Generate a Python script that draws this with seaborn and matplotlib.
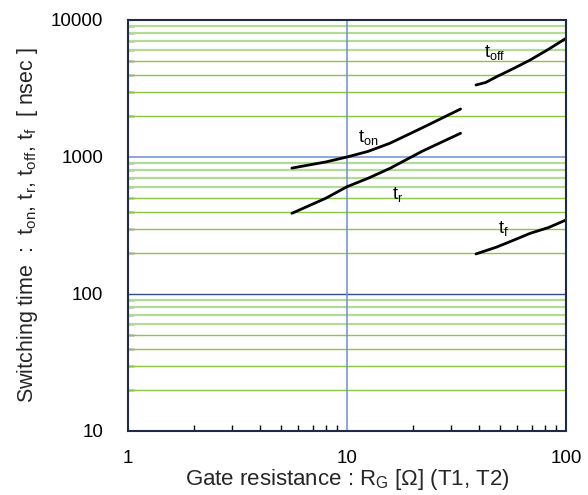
import numpy as np
import pandas as pd
import seaborn as sns
import matplotlib
matplotlib.use('Agg')
import matplotlib.pyplot as plt
from matplotlib.ticker import FixedLocator, NullFormatter

# (Rg in ohm, time in nsec)
ton_rg = [5.6, 8.0, 10, 12.5, 15.7, 22, 33]
ton_t = [830, 920, 1000, 1100, 1260, 1630, 2240]
tr_rg = [5.6, 8.0, 10, 12.5, 15.7, 22, 33]
tr_t = [388, 500, 607, 700, 826, 1100, 1490]
toff_rg = [38.8, 43, 48.2, 58, 68.5, 83, 100]
toff_t = [3355, 3500, 3855, 4450, 5100, 6100, 7350]
tf_rg = [38.8, 48.2, 58, 68.5, 83, 100]
tf_t = [196, 220, 248, 277, 305, 347]

curves = {'ton': (ton_rg, ton_t), 'tr': (tr_rg, tr_t),
          'toff': (toff_rg, toff_t), 'tf': (tf_rg, tf_t)}
df = pd.concat([pd.DataFrame({'rg': r, 't': t, 'curve': k})
                for k, (r, t) in curves.items()], ignore_index=True)

sns.set_style('ticks')
plt.rcParams['font.family'] = ['Liberation Sans', 'DejaVu Sans']
plt.rcParams['mathtext.fontset'] = 'custom'
plt.rcParams['mathtext.rm'] = 'Liberation Sans'
plt.rcParams['mathtext.it'] = 'Liberation Sans'

fig = plt.figure(figsize=(5.88, 4.95), dpi=100)
ax = fig.add_axes([0.2177, 0.1293, 0.9626 - 0.2177, 0.9596 - 0.1293])
ax.set_xscale('log')
ax.set_yscale('log')
ax.set_xlim(1, 100)
ax.set_ylim(10, 10000)

# grid lines
green = '#8dc641'
light = '#b3db92'
for dec in [10, 100, 1000]:
    for m in range(2, 10):
        c = light if m >= 6 else green
        lw = 1.6 if m >= 6 else 1.0
        ax.axhline(dec * m, color=c, lw=lw, zorder=1)
ax.axhline(1000, color='#6d8fd0', lw=1.1, zorder=1)
ax.axhline(100, color='#2f4f8f', lw=1.0, zorder=1)
ax.axvline(10, color='#6d8fd0', lw=1.1, zorder=1)

for k in curves:
    sns.lineplot(data=df[df.curve == k], x='rg', y='t', color='black',
                 lw=2, ax=ax, legend=False, zorder=3)

lab = dict(fontsize=13, color='black', zorder=4, ha='left', va='center')
ax.text(11.2, 1390, r'$\mathregular{t_{on}}$', **lab)
ax.text(16.0, 528, r'$\mathregular{t_{r}}$', **lab)
ax.text(42.2, 5770, r'$\mathregular{t_{off}}$', **lab)
ax.text(48.9, 303, r'$\mathregular{t_{f}}$', **lab)

ax.xaxis.set_major_locator(FixedLocator([1, 10, 100]))
ax.set_xticklabels(['1', '10', '100'])
ax.yaxis.set_major_locator(FixedLocator([10, 100, 1000, 10000]))
ax.set_yticklabels(['10', '100', '1000', '10000'])
ax.xaxis.set_minor_locator(FixedLocator([d * m for d in [1, 10] for m in range(2, 10)]))
ax.yaxis.set_minor_locator(FixedLocator([d * m for d in [10, 100, 1000] for m in range(2, 10)]))
ax.xaxis.set_minor_formatter(NullFormatter())
ax.yaxis.set_minor_formatter(NullFormatter())
ax.tick_params(which='both', direction='in', color='black')
ax.tick_params(which='major', length=0, labelsize=13.5, colors='black')
ax.tick_params(axis='x', which='major', pad=14)
ax.tick_params(axis='y', which='major', pad=18)
ax.tick_params(which='minor', length=4, width=1)
ax.tick_params(top=False, right=False, which='both')

for s in ax.spines.values():
    s.set_color('#1f2a44')
    s.set_linewidth(1.5)
    s.set_zorder(5)

ax.set_xlabel(r'Gate resistance : R$\mathregular{_G}$ [Ω] (T1, T2)', fontsize=16, labelpad=0)
ax.set_ylabel(r'Switching time  :  t$\mathregular{_{on}}$, t$\mathregular{_r}$, '
              r't$\mathregular{_{off}}$, t$\mathregular{_f}$  [ nsec ]', fontsize=15.5, labelpad=8)

fig.savefig('out.png', dpi=100)
